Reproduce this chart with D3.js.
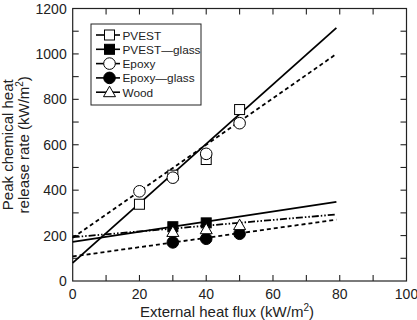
<!DOCTYPE html>
<html><head><meta charset="utf-8">
<script src="https://cdn.jsdelivr.net/npm/d3@7"></script>
<style>body{margin:0;background:#fff}svg{display:block;font-family:"Liberation Sans",Arial,sans-serif}</style>
</head><body><svg id="c" width="417" height="320"></svg>
<script>
// Series names
const seriesNames = ["PVEST", "PVEST\u2014glass", "Epoxy", "Epoxy\u2014glass", "Wood"];
// Measured points [external heat flux, peak HRR]
const pvest       = [[20, 338], [30, 466], [40, 535], [50, 755]];
const pvestGlass  = [[30, 239], [40, 256]];
const epoxy       = [[20, 395], [30, 455], [40, 560], [50, 695]];
const epoxyGlass  = [[30, 170], [40, 186], [50, 208]];
const wood        = [[30, 216], [40, 228], [50, 246]];
// Fitted lines [[x0,y0],[x1,y1]]
const pvestFit      = [[0, 80], [79, 1115]];
const pvestGlassFit = [[0, 172], [79, 348]];
const epoxyFit      = [[0, 190], [79, 1000]];
const epoxyGlassFit = [[0, 108], [79, 270]];
const woodFit       = [[0, 193], [79, 293]];
// Axis ticks
const xTicks = [0, 20, 40, 60, 80, 100];
const yTicks = [0, 200, 400, 600, 800, 1000, 1200];
const xMinor = [10, 30, 50, 70, 90];
const yMinor = [100, 300, 500, 700, 900, 1100];

const svg = d3.select("#c");
const x = d3.scaleLinear().domain([0, 100]).range([72.7, 406.5]);
const y = d3.scaleLinear().domain([0, 1200]).range([281, 8.5]);
const L = x(0), R = x(100), T = y(1200), B = y(0);
const tk = 6;

const series = [
  {name: seriesNames[0], pts: pvest, fit: pvestFit, marker: "square", fill: "#fff", dash: null},
  {name: seriesNames[1], pts: pvestGlass, fit: pvestGlassFit, marker: "square", fill: "#000", dash: null},
  {name: seriesNames[2], pts: epoxy, fit: epoxyFit, marker: "circle", fill: "#fff", dash: "4,3"},
  {name: seriesNames[3], pts: epoxyGlass, fit: epoxyGlassFit, marker: "circle", fill: "#000", dash: "4,3"},
  {name: seriesNames[4], pts: wood, fit: woodFit, marker: "triangle", fill: "#fff", dash: "7,2,1.5,2,1.5,2"}
];

// frame
svg.append("rect").attr("x", L).attr("y", T).attr("width", R - L).attr("height", B - T)
  .attr("fill", "none").attr("stroke", "#222").attr("stroke-width", 1.2);

const g = svg.append("g").attr("stroke", "#222").attr("stroke-width", 1.1);
[...xTicks, ...xMinor].forEach(v => {
  if (v === 0 || v === 100) return;
  g.append("line").attr("x1", x(v)).attr("x2", x(v)).attr("y1", B).attr("y2", B - tk);
  g.append("line").attr("x1", x(v)).attr("x2", x(v)).attr("y1", T).attr("y2", T + tk);
});
[...yTicks, ...yMinor].forEach(v => {
  if (v === 0 || v === 1200) return;
  g.append("line").attr("y1", y(v)).attr("y2", y(v)).attr("x1", L).attr("x2", L + tk);
  g.append("line").attr("y1", y(v)).attr("y2", y(v)).attr("x1", R).attr("x2", R - tk);
});

svg.selectAll(".xl").data(xTicks).join("text").attr("x", d => x(d)).attr("y", B + 17.5)
  .attr("text-anchor", "middle").attr("font-size", 14).attr("fill", "#222").text(d => d);
svg.selectAll(".yl").data(yTicks).join("text").attr("x", L - 6).attr("y", d => y(d) + 5)
  .attr("text-anchor", "end").attr("font-size", 14).attr("fill", "#222").text(d => d);

// axis titles
const xt = svg.append("text").attr("x", 227).attr("y", 316.5).attr("text-anchor", "middle")
  .attr("font-size", 15).attr("fill", "#222");
xt.append("tspan").text("External heat flux (kW/m");
xt.append("tspan").attr("font-size", 10).attr("dy", -6).text("2");
xt.append("tspan").attr("dy", 6).text(")");

const yt = svg.append("text").attr("transform", `translate(0,${(T + B) / 2}) rotate(-90)`)
  .attr("text-anchor", "middle").attr("font-size", 15).attr("fill", "#222");
yt.append("tspan").attr("x", 0).attr("y", 13).text("Peak chemical heat");
yt.append("tspan").attr("x", 0).attr("y", 29).text("release rate (kW/m");
yt.append("tspan").attr("font-size", 10).attr("dy", -6).text("2");
yt.append("tspan").attr("dy", 6).text(")");

// lines
const line = d3.line().x(d => x(d[0])).y(d => y(d[1]));
series.forEach(s => {
  svg.append("path").attr("d", line(s.fit)).attr("fill", "none").attr("stroke", "#000")
    .attr("stroke-width", 1.8).attr("stroke-dasharray", s.dash);
});

function marker(sel, type, fill, cx, cy) {
  const common = m => m.attr("fill", fill).attr("stroke", "#000").attr("stroke-width", 1);
  if (type === "square") common(sel.append("rect").attr("x", cx - 5).attr("y", cy - 5).attr("width", 10).attr("height", 10));
  else if (type === "circle") common(sel.append("circle").attr("cx", cx).attr("cy", cy).attr("r", 5.8));
  else common(sel.append("path").attr("d", `M${cx},${cy - 6}L${cx + 6},${cy + 4.5}L${cx - 6},${cy + 4.5}Z`));
}
series.forEach(s => {
  s.pts.forEach(p => marker(svg, s.marker, s.fill, x(p[0]), y(p[1])));
});

// legend
svg.append("rect").attr("x", 91).attr("y", 24).attr("width", 110).attr("height", 81)
  .attr("fill", "#fff").attr("stroke", "#222").attr("stroke-width", 1);
series.forEach((s, i) => {
  const ly = 35 + i * 14.3;
  svg.append("line").attr("x1", 96).attr("x2", 120).attr("y1", ly).attr("y2", ly)
    .attr("stroke", "#000").attr("stroke-width", 1.6);
  marker(svg, s.marker, s.fill, 109.5, ly);
  svg.append("text").attr("x", 122.5).attr("y", ly + 4.5).attr("font-size", 11.8).attr("fill", "#222").text(s.name);
});
</script></body></html>
